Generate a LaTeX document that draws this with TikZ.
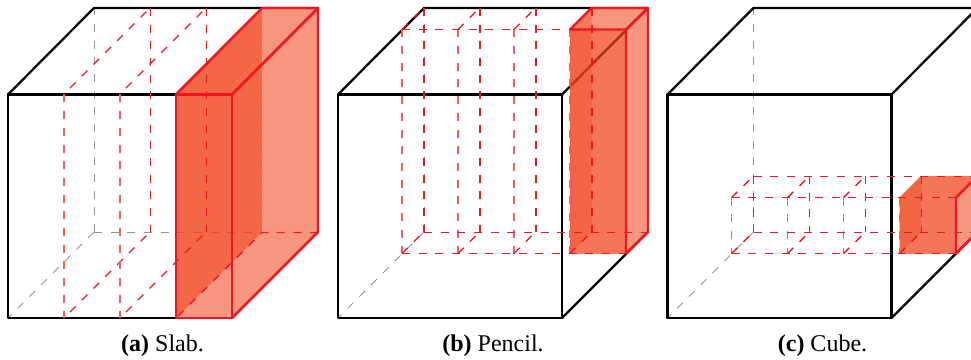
\documentclass[tikz,border=0pt]{standalone}
\usepackage{fontspec}
\setmainfont{Liberation Serif}
\definecolor{fillred}{HTML}{F04016}
\definecolor{edgered}{HTML}{F5141E}
\tikzset{
  cubeedge/.style={black,line width=1.7pt,line join=round,line cap=round},
  hiddenedge/.style={gray!85,line width=.7pt,dash pattern=on 6pt off 6.5pt},
  frontdash/.style={red!65!white,line width=1.15pt,dash pattern=on 6pt off 6.5pt},
  backdash/.style={edgered,line width=1.05pt,dash pattern=on 6pt off 6.5pt},
  solidred/.style={edgered,line width=1.85pt,line join=round,line cap=round},
  faintdash/.style={red!40!white,line width=.7pt,dash pattern=on 6pt off 6.5pt},
  basefill/.style={fill=fillred,fill opacity=.55},
  midfill/.style={fill=fillred,fill opacity=.38},
  darkfill/.style={fill=fillred,fill opacity=.33},
  caption/.style={font=\fontsize{18pt}{20pt}\selectfont,anchor=base,inner sep=0pt}
}
\newcommand{\hiddencube}[1]{%
  \draw[hiddenedge] (#1+86,232) -- (#1+86,8);
  \draw[hiddenedge] (#1+86,232) -- (#1+310,232);
  \draw[hiddenedge] (#1+86,232) -- (#1,318);
}
\newcommand{\blackcube}[1]{%
  \draw[cubeedge] (#1,94.5) rectangle (#1+224,318);
  \draw[cubeedge] (#1,94.5) -- (#1+86,8) -- (#1+310,8);
  \draw[cubeedge] (#1+224,94.5) -- (#1+310,8);
  \draw[cubeedge] (#1+224,318) -- (#1+310,232);
}
\begin{document}
\begin{tikzpicture}[x=.75pt,y=-.75pt]
\useasboundingbox (0,0) rectangle (971,360);
\clip (0,0) rectangle (971,360);
% ---------- (a) Slab
\hiddencube{8}
\blackcube{8}
\fill[basefill] (176,94.5) -- (262,8) -- (318,8) -- (318,232) -- (232,318) -- (176,318) -- cycle;
\fill[darkfill,fill opacity=.55] (176,94.5) -- (262,8) -- (262,232) -- (176,318) -- cycle;
\foreach \x in {64,120}{
  \draw[frontdash] (\x,94.5) -- (\x,318);
  \draw[backdash] (\x+6,88) -- (\x+86,8);
  \draw[backdash] (\x+6,312) -- (\x+86,232);
  \draw[backdash] (\x+86.5,8) -- (\x+86.5,232);
}
\draw[faintdash] (262,8) -- (262,232);
\draw[backdash] (318,232.5) -- (262,232.5) -- (176,318);
\draw[solidred] (176,94.5) rectangle (232,318);
\draw[solidred] (176,94.5) -- (262,8) -- (318,8) -- (318,232) -- (232,318);
\draw[solidred] (232,94.5) -- (318,8);
\node[caption] (capa) at (162.5,351.5) {\textbf{(a)} Slab.};
% ---------- (b) Pencil
\hiddencube{338}
\blackcube{338}
\fill[basefill] (570,29.5) -- (591.5,8) -- (648,8) -- (648,232) -- (626,253.5) -- (570,253.5) -- cycle;
\fill[midfill] (570,29.5) rectangle (626,253.5);
\fill[darkfill] (570,29.5) -- (591.5,8) -- (591.5,232) -- (570,253.5) -- cycle;
\foreach \x in {402,458,514,570}{
  \draw[frontdash] (\x,29.5) -- (\x,253.5);
  \draw[backdash] (\x+22,8) -- (\x+22,232);
  \draw[backdash] (\x,253.5) -- (\x+21.5,232);
}
\foreach \x in {402,458,514}{
  \draw[backdash] (\x,29.5) -- (\x+21.5,8);
}
\draw[backdash] (402,29.5) -- (570,29.5);
\draw[backdash] (402,253.5) -- (626,253.5);
\draw[backdash] (424,232.5) -- (648,232.5);
\draw[solidred] (570,29.5) -- (591.5,8) -- (648,8) -- (648,232) -- (626,253.5) -- (626,29.5) -- (570,29.5);
\draw[solidred] (626,29.5) -- (648,8);
\node[caption] (capb) at (493,351.5) {\textbf{(b)} Pencil.};
% ---------- (c) Cube
\hiddencube{667.5}
\blackcube{667.5}
\fill[basefill] (899.5,197.5) -- (921,176) -- (977.5,176) -- (977.5,232) -- (956,253.5) -- (899.5,253.5) -- cycle;
\fill[midfill] (899.5,197.5) rectangle (956,253.5);
\fill[midfill] (899.5,197.5) -- (921,176) -- (977.5,176) -- (956,197.5) -- cycle;
\fill[darkfill] (899.5,197.5) -- (921,176) -- (921,232) -- (899.5,253.5) -- cycle;
\foreach \x in {731.5,787.5,843.5,899.5}{
  \draw[frontdash] (\x,197.5) -- (\x,253.5);
  \draw[backdash] (\x+22,176) -- (\x+22,232);
}
\foreach \x in {731.5,787.5,843.5}{
  \draw[backdash] (\x,197.5) -- (\x+22,176);
  \draw[backdash] (\x,253.5) -- (\x+22,232);
}
\draw[backdash] (899.5,253.5) -- (921,232);
\draw[backdash] (753.5,176.5) -- (977.5,176.5);
\draw[backdash] (731.5,197.5) -- (956,197.5);
\draw[backdash] (753.5,232.5) -- (977.5,232.5);
\draw[backdash] (731.5,253.5) -- (956,253.5);
\draw[solidred] (956,197.5) -- (956,253.5) -- (977.5,232);
\draw[solidred] (956,197.5) -- (977.5,176);
\node[caption] (capc) at (822.5,351.5) {\textbf{(c)} Cube.};
\end{tikzpicture}
\end{document}
